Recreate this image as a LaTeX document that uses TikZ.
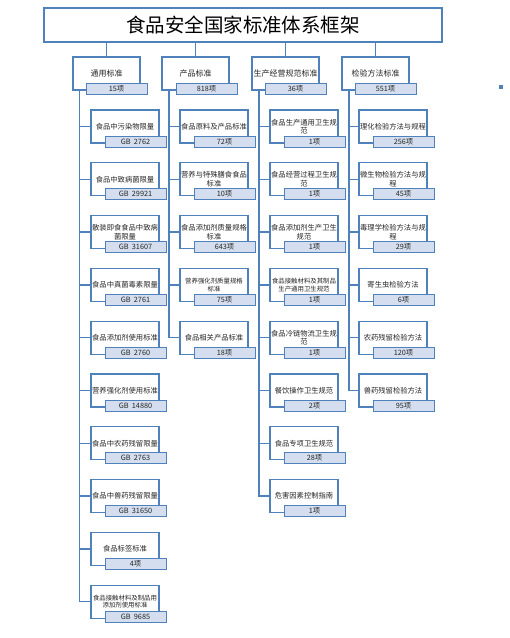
\documentclass[tikz,border=0pt]{standalone}
\usepackage{fontspec}
\setmainfont{Noto Sans CJK SC}
\usetikzlibrary{positioning}
\definecolor{frameblue}{RGB}{79,129,189}
\definecolor{tagfill}{RGB}{212,222,238}

\begin{document}
\begin{tikzpicture}[x=1pt,y=-1pt,
  every node/.style={font=\fontsize{7.3}{8.4}\selectfont,text=black!85},
  box/.style={draw=frameblue,line width=1.2pt,fill=white,minimum width=68pt,minimum height=33pt,inner sep=0pt,align=center},
  tag/.style={draw=frameblue,line width=1pt,fill=tagfill,minimum width=61pt,minimum height=11pt,inner sep=0pt,font=\fontsize{7.3}{8}\selectfont},
  lbl/.style={},
  tiny/.style={font=\fontsize{6.4}{7.4}\selectfont},
  link/.style={draw=frameblue,line width=1.5pt} ]
  \useasboundingbox (0,0) rectangle (510,638);

  % title and the four groups
  \node[box,minimum width=398pt,minimum height=34pt,font=\fontsize{19.5}{22}\selectfont,text=black] (title) at (243,25) {食品安全国家标准体系框架};

  \node[box,minimum width=67pt,font=\fontsize{8}{9}\selectfont] (gen) at (106.5,73.5) {通用标准};
  \node[box,minimum width=67pt,font=\fontsize{8}{9}\selectfont] (prod) at (195.5,73.5) {产品标准};
  \node[box,minimum width=67pt,font=\fontsize{8}{9}\selectfont] (prac) at (285.5,73.5) {生产经营规范标准};
  \node[box,minimum width=67pt,font=\fontsize{8}{9}\selectfont] (test) at (375.5,73.5) {检验方法标准};
  \node[tag] (genN) at (116.5,88.5) {15项};
  \node[tag] (prodN) at (206.5,88.5) {818项};
  \node[tag] (pracN) at (295.5,88.5) {36项};
  \node[tag] (testN) at (385.5,88.5) {551项};

  \draw[link] (gen.north |- title.south) -- (gen.north);
  \draw[link] (prod.north |- title.south) -- (prod.north);
  \draw[link] (prac.north |- title.south) -- (prac.north);
  \draw[link] (test.north |- title.south) -- (test.north);

  \coordinate (genS) at (79.5,90);
  \coordinate (prodS) at (169,90);
  \coordinate (pracS) at (259,90);
  \coordinate (testS) at (349,90);

  % general standards
  \foreach \t/\n/\s [count=\k from 0] in {
      食品中污染物限量/GB\ \ 2762/lbl,
      食品中致病菌限量/GB\ \ 29921/lbl,
      {散装即食食品中致病\\菌限量}/GB\ \ 31607/lbl,
      食品中真菌毒素限量/GB\ \ 2761/lbl,
      食品添加剂使用标准/GB\ \ 2760/lbl,
      营养强化剂使用标准/GB\ \ 14880/lbl,
      食品中农药残留限量/GB\ \ 2763/lbl,
      食品中兽药残留限量/GB\ \ 31650/lbl,
      食品标签标准/4项/lbl,
      {食品接触材料及制品用\\添加剂使用标准}/GB\ \ 9685/tiny} {
    \node[box,\s] (gen\k) at (125,126.5+52.8*\k) {\t};
    \node[tag] (gen\k N) at (135.5,141.5+52.8*\k) {\n};
    \draw[link] (genS) |- (gen\k.west);
  }

  % product standards
  \foreach \t/\n/\s [count=\k from 0] in {
      食品原料及产品标准/72项/lbl,
      {营养与特殊膳食食品\\标准}/10项/lbl,
      {食品添加剂质量规格\\标准}/643项/lbl,
      {营养强化剂质量规格\\标准}/75项/tiny,
      食品相关产品标准/18项/lbl} {
    \node[box,\s] (prod\k) at (214,126.5+52.8*\k) {\t};
    \node[tag] (prod\k N) at (224.5,141.5+52.8*\k) {\n};
    \draw[link] (prodS) |- (prod\k.west);
  }

  % production and trade practice
  \foreach \t/\n/\s [count=\k from 0] in {
      {食品生产通用卫生规\\范}/1项/lbl,
      {食品经营过程卫生规\\范}/1项/lbl,
      {食品添加剂生产卫生\\规范}/1项/lbl,
      {食品接触材料及其制品\\生产通用卫生规范}/1项/tiny,
      {食品冷链物流卫生规\\范}/1项/lbl,
      餐饮操作卫生规范/2项/lbl,
      食品专项卫生规范/28项/lbl,
      危害因素控制指南/1项/lbl} {
    \node[box,\s] (prac\k) at (304,126.5+52.8*\k) {\t};
    \node[tag] (prac\k N) at (314.5,141.5+52.8*\k) {\n};
    \draw[link] (pracS) |- (prac\k.west);
  }

  % test methods
  \foreach \t/\n/\s [count=\k from 0] in {
      理化检验方法与规程/256项/lbl,
      {微生物检验方法与规\\程}/45项/lbl,
      {毒理学检验方法与规\\程}/29项/lbl,
      寄生虫检验方法/6项/lbl,
      农药残留检验方法/120项/lbl,
      兽药残留检验方法/95项/lbl} {
    \node[box,\s] (test\k) at (393,126.5+52.8*\k) {\t};
    \node[tag] (test\k N) at (403.5,141.5+52.8*\k) {\n};
    \draw[link] (testS) |- (test\k.west);
  }

  \node[fill=frameblue,minimum size=4pt,inner sep=0pt] (mark) at (501,87) {};
\end{tikzpicture}
\end{document}
